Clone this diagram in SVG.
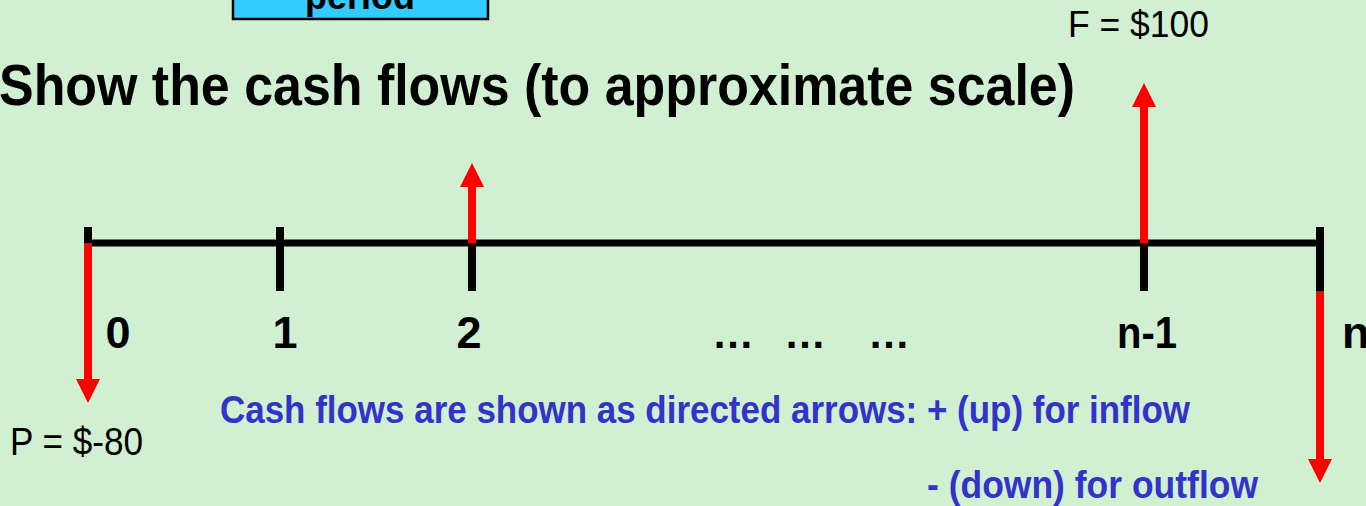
<svg xmlns="http://www.w3.org/2000/svg" width="1366" height="506" viewBox="0 0 1366 506">
  <style>
    .bold { font-family: "Liberation Sans", Arial, sans-serif; font-weight: bold; }
    .reg { font-family: "Liberation Sans", Arial, sans-serif; }
    .tick { stroke: #000000; stroke-width: 8; stroke-linecap: butt; }
    .flow { stroke: #FF0000; stroke-width: 8; stroke-linecap: butt; fill: none; marker-end: url(#head); }
    .lbl { font-size: 45px; fill: #000000; text-anchor: middle; }
    .note { font-size: 39px; fill: #3333CC; }
  </style>
  <defs>
    <marker id="head" markerUnits="userSpaceOnUse" markerWidth="24" markerHeight="24" refX="12" refY="12" orient="auto" viewBox="0 0 24 24">
      <path d="M0,0 L24,12 L0,24 Z" fill="#FF0000"/>
    </marker>
  </defs>
  <rect x="0" y="0" width="1366" height="506" fill="#D1F0D1"/>

  <g id="period-box">
    <rect x="233" y="-40" width="255" height="59" fill="#33CCFF" stroke="#000000" stroke-width="2.5"/>
    <text class="bold" x="360" y="9" font-size="39" text-anchor="middle" textLength="110" lengthAdjust="spacingAndGlyphs">period</text>
  </g>

  <g id="title">
    <text class="bold" x="-1" y="105" font-size="58" textLength="1076" lengthAdjust="spacingAndGlyphs">Show the cash flows (to approximate scale)</text>
  </g>

  <g id="timeline">
    <line x1="84" y1="243" x2="1324" y2="243" stroke="#000000" stroke-width="7"/>
    <line class="tick" x1="88" y1="227" x2="88" y2="245"/>
    <line class="tick" x1="280" y1="227" x2="280" y2="291"/>
    <line class="tick" x1="472" y1="227" x2="472" y2="291"/>
    <line class="tick" x1="1144" y1="240" x2="1144" y2="291"/>
    <line class="tick" x1="1320" y1="227" x2="1320" y2="291"/>
  </g>

  <g id="period-labels">
    <text class="bold lbl" x="118" y="348">0</text>
    <text class="bold lbl" x="285" y="348">1</text>
    <text class="bold lbl" x="469" y="348">2</text>
    <text class="bold" font-size="42" x="733" y="348" text-anchor="middle">…</text>
    <text class="bold" font-size="42" x="805" y="348" text-anchor="middle">…</text>
    <text class="bold" font-size="42" x="889" y="348" text-anchor="middle">…</text>
    <text class="bold lbl" x="1147" y="348" textLength="60" lengthAdjust="spacingAndGlyphs">n-1</text>
    <text class="bold" font-size="45" x="1342" y="348">n</text>
  </g>

  <g id="connectors">
    <line class="flow" x1="88" y1="243" x2="88" y2="391"/>
    <line class="flow" x1="472" y1="243" x2="472" y2="175"/>
    <line class="flow" x1="1144" y1="243" x2="1144" y2="95"/>
    <line class="flow" x1="1320" y1="291" x2="1320" y2="471"/>
  </g>

  <g id="value-labels">
    <text class="reg" x="10" y="455" font-size="38" textLength="133" lengthAdjust="spacingAndGlyphs">P = $-80</text>
    <text class="reg" x="1068" y="37" font-size="37" textLength="141" lengthAdjust="spacingAndGlyphs">F = $100</text>
  </g>

  <g id="notes">
    <text class="bold note" x="220" y="423" textLength="970" lengthAdjust="spacingAndGlyphs">Cash flows are shown as directed arrows: + (up) for inflow</text>
    <text class="bold note" x="927" y="498" textLength="331" lengthAdjust="spacingAndGlyphs">- (down) for outflow</text>
  </g>
</svg>
